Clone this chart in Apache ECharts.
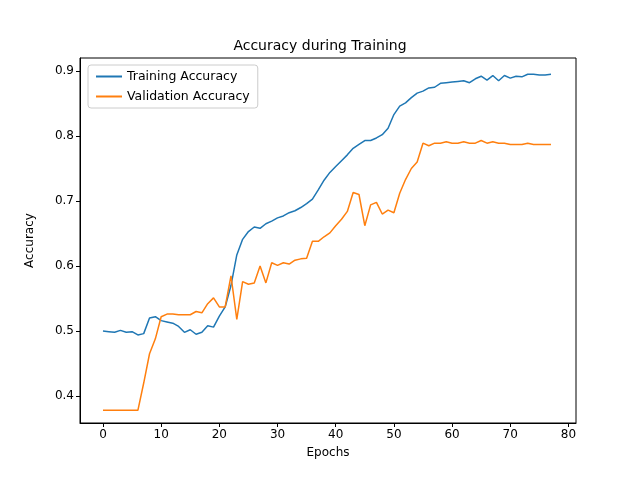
<!DOCTYPE html>
<html>
<head>
<meta charset="utf-8">
<script src="https://cdn.jsdelivr.net/npm/echarts@6/dist/echarts.min.js"></script>
<style>html,body{margin:0;padding:0;background:#fff}#chart{width:640px;height:480px}</style>
</head>
<body>
<div id="chart"></div>
<script>
var trainAcc = [0.500, 0.499, 0.498, 0.501, 0.498, 0.499, 0.494, 0.496, 0.520, 0.522,
    0.516, 0.514, 0.512, 0.507, 0.498, 0.502, 0.495, 0.498, 0.508, 0.506,
    0.523, 0.537, 0.570, 0.617, 0.641, 0.653, 0.660, 0.658, 0.665, 0.669,
    0.674, 0.677, 0.682, 0.685, 0.690, 0.696, 0.703, 0.717, 0.732, 0.744,
    0.753, 0.762, 0.771, 0.781, 0.787, 0.793, 0.793, 0.797, 0.802, 0.812,
    0.833, 0.846, 0.851, 0.859, 0.866, 0.869, 0.874, 0.875, 0.881, 0.882,
    0.883, 0.884, 0.885, 0.882, 0.888, 0.892, 0.886, 0.893, 0.885, 0.893,
    0.889, 0.892, 0.891, 0.895, 0.895, 0.894, 0.894, 0.895];
var valAcc = [0.378, 0.378, 0.378, 0.378, 0.378, 0.378, 0.378, 0.420, 0.465, 0.488,
    0.522, 0.526, 0.526, 0.525, 0.525, 0.525, 0.530, 0.528, 0.542, 0.551,
    0.537, 0.537, 0.585, 0.518, 0.576, 0.572, 0.574, 0.600, 0.574, 0.605,
    0.601, 0.605, 0.603, 0.609, 0.611, 0.612, 0.638, 0.638, 0.645, 0.651,
    0.662, 0.672, 0.684, 0.713, 0.710, 0.662, 0.694, 0.698, 0.680, 0.686,
    0.682, 0.712, 0.733, 0.750, 0.760, 0.789, 0.785, 0.789, 0.789, 0.791,
    0.789, 0.789, 0.791, 0.789, 0.789, 0.793, 0.789, 0.791, 0.789, 0.789,
    0.787, 0.787, 0.787, 0.789, 0.787, 0.787, 0.787, 0.787];
var xTicks = [0, 10, 20, 30, 40, 50, 60, 70, 80];
var yTicks = [0.4, 0.5, 0.6, 0.7, 0.8, 0.9];

function pairs(arr) {
    var res = [];
    for (var i = 0; i < arr.length; i++) {
        res.push([i, arr[i]]);
    }
    return res;
}

var myChart = echarts.init(document.getElementById("chart"));
var font = 'DejaVu Sans';
myChart.setOption({
    animation: false,
    title: {
        text: 'Accuracy during Training',
        left: 'center',
        top: 34,
        textStyle: {fontFamily: font, fontSize: 14, fontWeight: 'normal', color: '#000'}
    },
    legend: {
        left: 88, top: 65,
        orient: 'vertical',
        itemGap: 7,
        itemWidth: 26,
        itemHeight: 2,
        padding: [5, 8],
        borderColor: '#ccc',
        borderWidth: 1,
        borderRadius: 3,
        icon: 'rect',
        textStyle: {fontFamily: font, fontSize: 12.5, color: '#000'},
        data: ['Training Accuracy', 'Validation Accuracy']
    },
    grid: {left: 80, right: 64, top: 58, bottom: 57, show: true, borderColor: '#000', borderWidth: 1},
    xAxis: {
        type: 'value',
        min: -3.95, max: 81.3,
        name: 'Epochs', nameLocation: 'middle', nameGap: 24,
        nameTextStyle: {fontFamily: font, fontSize: 12, color: '#000'},
        axisLine: {show: true, onZero: false, lineStyle: {color: '#000'}},
        axisTick: {show: true, customValues: xTicks, length: 4, lineStyle: {color: '#000'}},
        axisLabel: {customValues: xTicks, fontFamily: font, fontSize: 12, color: '#000', margin: 6},
        splitLine: {show: false}
    },
    yAxis: {
        type: 'value',
        min: 0.3585, max: 0.92,
        name: 'Accuracy', nameLocation: 'middle', nameGap: 44,
        nameTextStyle: {fontFamily: font, fontSize: 12, color: '#000'},
        axisLine: {show: true, onZero: false, lineStyle: {color: '#000'}},
        axisTick: {show: true, customValues: yTicks, length: 4, lineStyle: {color: '#000'}},
        axisLabel: {customValues: yTicks, fontFamily: font, fontSize: 12, color: '#000', margin: 6,
            formatter: function (v) { return v.toFixed(1); }},
        splitLine: {show: false}
    },
    series: [{
        name: 'Training Accuracy',
        type: 'line',
        data: pairs(trainAcc),
        showSymbol: false,
        color: '#1f77b4',
        lineStyle: {width: 1.5}
    }, {
        name: 'Validation Accuracy',
        type: 'line',
        data: pairs(valAcc),
        showSymbol: false,
        color: '#ff7f0e',
        lineStyle: {width: 1.5}
    }]
});
</script>
</body>
</html>
